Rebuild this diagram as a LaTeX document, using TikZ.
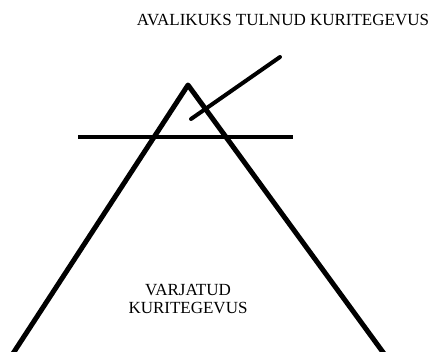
\documentclass[tikz,border=0pt]{standalone}
\usepackage{fontspec}
\setmainfont{Liberation Serif}
\begin{document}
\begin{tikzpicture}[x=1pt,y=-1pt,
  thick line/.style={line width=5pt,line join=round},
  mid line/.style={line width=4pt,line cap=round},
  label text/.style={font=\fontsize{17}{18}\selectfont,align=center,inner sep=0pt}]
\useasboundingbox (0,0) rectangle (430,351);
\clip (0,0) rectangle (430,351);
\coordinate (apex) at (188,85);
\coordinate (bl) at (12,355);
\coordinate (br) at (385,355);
\coordinate (hl) at (78,137);
\coordinate (hr) at (293,137);
\coordinate (ds) at (191,119);
\coordinate (de) at (280,57);
\draw[thick line] (bl) -- (apex) -- (br);
\draw[line width=4pt] (hl) -- (hr);
\draw[mid line] (ds) -- (de);
\node[label text] (top) at (283,20) {AVALIKUKS TULNUD KURITEGEVUS};
\node[label text] (bottom) at (188,299) {VARJATUD\\KURITEGEVUS};
\end{tikzpicture}
\end{document}
